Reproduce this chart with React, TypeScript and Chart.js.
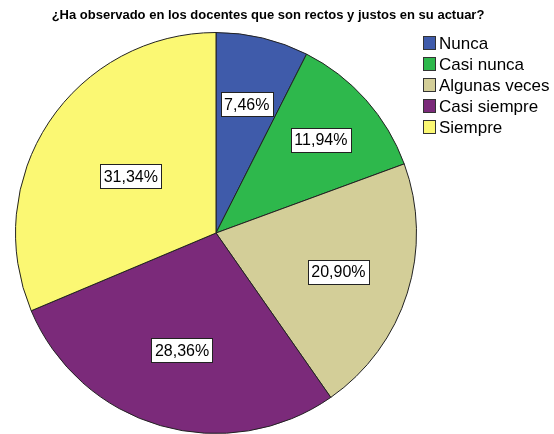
import React, { useEffect, useRef } from "react";
import { Chart, registerables } from "chart.js";

Chart.register(...registerables);

const titleText = "¿Ha observado en los docentes que son rectos y justos en su actuar?";
const categories = ["Nunca", "Casi nunca", "Algunas veces", "Casi siempre", "Siempre"];
const percentages = [7.46, 11.94, 20.9, 28.36, 31.34];
const colors = ["#3F5BAA", "#2EB84C", "#D3CE98", "#7B2A7A", "#FBF873"];
// radial placement of each value label, as fraction of the pie radius
const labelRadiusFraction = [0.66, 0.7, 0.64, 0.61, 0.51];

const FONT = "'Liberation Sans', Arial, sans-serif";

const overlayPlugin = {
  id: "overlay",
  afterDatasetsDraw(chart: any) {
    const ctx = chart.ctx as CanvasRenderingContext2D;
    const meta = chart.getDatasetMeta(0);
    ctx.save();
    // value labels
    ctx.font = `16px ${FONT}`;
    ctx.textAlign = "center";
    ctx.textBaseline = "middle";
    meta.data.forEach((arc: any, i: number) => {
      const p = arc.getProps(["x", "y", "startAngle", "endAngle", "outerRadius"], true);
      const mid = (p.startAngle + p.endAngle) / 2;
      const r = p.outerRadius * labelRadiusFraction[i];
      const cx = p.x + Math.cos(mid) * r;
      const cy = p.y + Math.sin(mid) * r;
      const txt = percentages[i].toFixed(2).replace(".", ",") + "%";
      const w = ctx.measureText(txt).width + 7;
      const h = 24;
      ctx.fillStyle = "#ffffff";
      ctx.fillRect(Math.round(cx - w / 2) + 0.5, Math.round(cy - h / 2) + 0.5, Math.round(w), h);
      ctx.strokeStyle = "#222222";
      ctx.lineWidth = 1;
      ctx.strokeRect(Math.round(cx - w / 2) + 0.5, Math.round(cy - h / 2) + 0.5, Math.round(w), h);
      ctx.fillStyle = "#000000";
      ctx.fillText(txt, cx, cy + 1);
    });
    // title
    ctx.font = `bold 13px ${FONT}`;
    ctx.fillStyle = "#000000";
    ctx.textAlign = "center";
    ctx.textBaseline = "middle";
    ctx.fillText(titleText, 268, 15);
    // legend
    ctx.font = `17px ${FONT}`;
    ctx.textAlign = "left";
    categories.forEach((c, i) => {
      const y = 43 + i * 21;
      ctx.fillStyle = colors[i];
      ctx.fillRect(423.5, y - 6.5, 12, 13);
      ctx.strokeStyle = "#333333";
      ctx.lineWidth = 1;
      ctx.strokeRect(423.5, y - 6.5, 12, 13);
      ctx.fillStyle = "#000000";
      ctx.fillText(c, 439, y + 1);
    });
    ctx.restore();
  },
};

export default function App() {
  const ref = useRef<HTMLCanvasElement | null>(null);
  useEffect(() => {
    if (!ref.current) return;
    const chart = new Chart(ref.current, {
      type: "pie",
      data: {
        labels: categories,
        datasets: [
          {
            data: percentages,
            backgroundColor: colors,
            borderColor: "#222222",
            borderWidth: 1,
          },
        ],
      },
      options: {
        responsive: false,
        animation: false,
        layout: { padding: { top: 32, left: 15, right: 137, bottom: 0 } },
        plugins: {
          legend: { display: false },
          title: { display: false },
          tooltip: { enabled: false },
        },
      },
      plugins: [overlayPlugin],
    });
    return () => chart.destroy();
  }, []);
  return (
    <div style={{ position: "fixed", left: 0, top: 0, width: 554, height: 434, background: "#fff" }}>
      <canvas ref={ref} width={554} height={434} />
    </div>
  );
}
